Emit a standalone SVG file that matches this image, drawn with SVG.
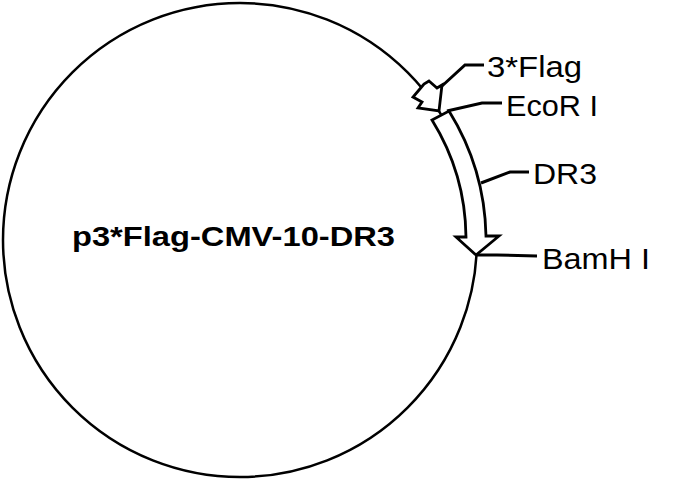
<svg xmlns="http://www.w3.org/2000/svg" width="689" height="480" viewBox="0 0 689 480">
<style>
.ln{fill:none;stroke:#000;stroke-width:2.5;stroke-linejoin:miter}
.ld{fill:none;stroke:#000;stroke-width:3;stroke-linejoin:miter}
.sh{fill:#fff;stroke:#000;stroke-width:2.8;stroke-linejoin:miter}
.lb{font-family:"Liberation Sans",Arial,sans-serif;font-size:30px;fill:#000}
.tt{font-family:"Liberation Sans",Arial,sans-serif;font-size:28px;font-weight:bold;fill:#000}
</style>
<rect width="689" height="480" fill="#fff"/>
<g id="plasmid">
<circle class="ln" cx="240" cy="240" r="237"/>
<text class="tt" x="72" y="246" textLength="323" lengthAdjust="spacingAndGlyphs">p3*Flag-CMV-10-DR3</text>
</g>
<g id="flag">
<polygon class="sh" points="429,81 437,88 442,85 439,111 418,108 422,102 413,97 419,90 424,84"/>
</g>
<g id="dr3">
<path class="sh" d="M449,111 A246 246 0 0 1 486,236 L499,236 L476,255 L456,237 L466,237 A226 226 0 0 0 432,120 Z"/>
</g>
<g id="connectors">
<polyline class="ld" points="442,86 465,65 484,65"/>
<polyline class="ld" points="447,111 482,103 502,103"/>
<polyline class="ld" points="481,183 510,172 529,172"/>
<polyline class="ld" points="476,255 497,255 537,256"/>
</g>
<g id="labels">
<text id="lbl-flag" class="lb" x="487" y="77" textLength="95" lengthAdjust="spacingAndGlyphs">3*Flag</text>
<text id="lbl-ecori" class="lb" x="506" y="116" textLength="92" lengthAdjust="spacingAndGlyphs">EcoR I</text>
<text id="lbl-dr3" class="lb" x="533" y="184" textLength="64" lengthAdjust="spacingAndGlyphs">DR3</text>
<text id="lbl-bamhi" class="lb" x="542" y="269" textLength="108" lengthAdjust="spacingAndGlyphs">BamH I</text>
</g>
</svg>
